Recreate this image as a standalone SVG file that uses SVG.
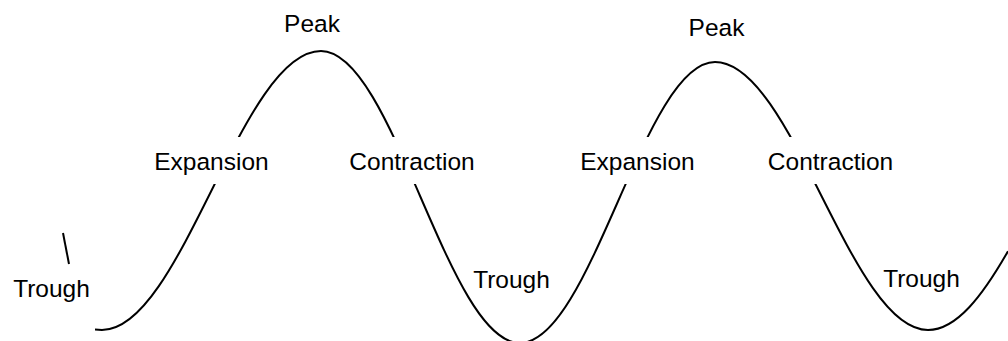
<svg xmlns="http://www.w3.org/2000/svg" width="1008" height="341" viewBox="0 0 1008 341">
  <style>
    .lbl { font-family: "Liberation Sans", Arial, sans-serif; font-size: 24.5px; fill: #000; text-anchor: middle; }
    .wave { fill: none; stroke: #000; stroke-width: 2; stroke-linecap: butt; }
  </style>
  <defs>
    <mask id="gaps" maskUnits="userSpaceOnUse" x="0" y="0" width="1008" height="341">
      <rect x="0" y="0" width="1008" height="341" fill="#fff"/>
      <rect x="150" y="137" width="125" height="47" fill="#000"/>
      <rect x="345" y="137" width="135" height="47" fill="#000"/>
      <rect x="575" y="137" width="125" height="47" fill="#000"/>
      <rect x="760" y="137" width="140" height="47" fill="#000"/>
    </mask>
  </defs>
  <rect width="1008" height="341" fill="#fff"/>
  <g id="connectors">
    <path class="wave" mask="url(#gaps)" d="M95,329.6 L102,330 C181.7,330 241.3,51 321,51 C393.4,51 447.6,343 520,343 C591,343 644,62 715,62 C792.5,62 850.5,330 928,330 C956.6,330 982.7,295.5 1008,251.2"/>
    <line class="wave" x1="63" y1="233" x2="69" y2="264"/>
  </g>
  <g id="peak1"><text class="lbl" x="312" y="32">Peak</text></g>
  <g id="expansion1"><text class="lbl" x="211.5" y="170">Expansion</text></g>
  <g id="contraction1"><text class="lbl" x="412" y="170">Contraction</text></g>
  <g id="trough1"><text class="lbl" x="51.5" y="297">Trough</text></g>
  <g id="trough2"><text class="lbl" x="511.5" y="288">Trough</text></g>
  <g id="peak2"><text class="lbl" x="716.5" y="36">Peak</text></g>
  <g id="expansion2"><text class="lbl" x="637.5" y="170">Expansion</text></g>
  <g id="contraction2"><text class="lbl" x="830.5" y="170">Contraction</text></g>
  <g id="trough3"><text class="lbl" x="921.5" y="287">Trough</text></g>
</svg>
